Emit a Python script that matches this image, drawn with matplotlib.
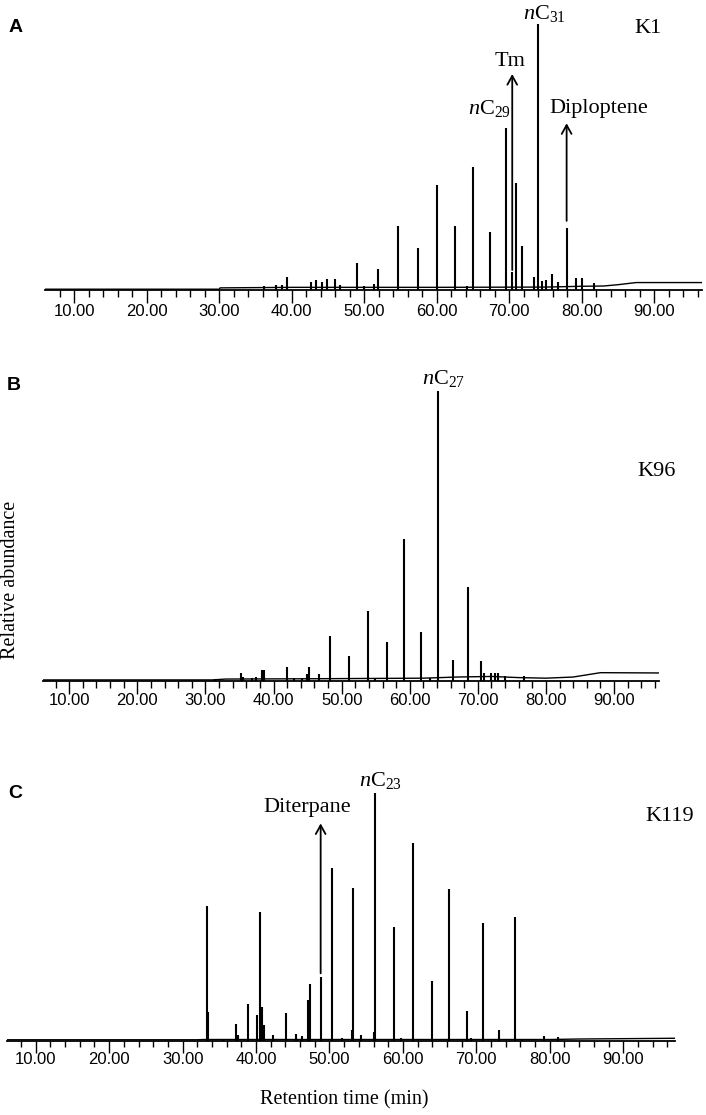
import numpy as np
import matplotlib
matplotlib.use("Agg")
import matplotlib.pyplot as plt
from matplotlib.ticker import FixedLocator

plt.rcParams['mathtext.fontset'] = 'custom'
plt.rcParams['mathtext.rm'] = 'Liberation Serif'
plt.rcParams['mathtext.it'] = 'Liberation Serif:italic'

# --- panel A (K1): peaks as (retention time, % of largest peak) ---
a_peak_rt = [36.1, 37.8, 38.6, 39.34, 42.7, 43.4, 44.1, 44.9, 45.9, 46.6,
             48.95, 49.9, 51.3, 51.9, 54.7, 57.45, 60.0, 62.5, 64.1, 64.95,
             67.3, 69.55, 70.4, 70.9, 71.75, 73.4, 73.9, 74.5, 75.05, 75.9,
             76.75, 77.9, 79.25, 80.0, 81.7]
a_peak_h = [1.5, 2.0, 2.0, 4.9, 3.1, 3.6, 3.0, 4.3, 4.3, 1.8,
            10.2, 1.6, 2.3, 8.0, 24.1, 15.8, 39.3, 24.1, 1.6, 46.2,
            21.7, 61.0, 6.9, 40.4, 16.5, 4.8, 100.0, 3.5, 3.8, 6.2,
            2.9, 23.4, 4.4, 4.4, 2.6]
a_base_rt = [5.9, 30.0, 30.1, 40.0, 60.0, 75.0, 80.0, 83.0, 85.0, 87.5, 96.6]
a_base_h = [0.3, 0.3, 0.8, 1.0, 1.0, 1.1, 1.4, 1.5, 2.0, 2.8, 2.8]

# --- panel B (K96) ---
b_peak_rt = [31.4, 35.18, 35.5, 36.8, 37.4, 38.36, 38.65, 41.97, 43.0, 44.2,
             44.95, 45.15, 46.6, 48.23, 51.1, 53.9, 54.9, 56.63, 59.18, 61.67,
             62.9, 64.1, 66.36, 68.6, 70.5, 70.9, 72.0, 72.5, 72.9, 74.0, 76.8]
b_peak_h = [0.6, 2.6, 1.2, 1.0, 1.2, 3.6, 3.6, 4.6, 0.8, 1.0,
            2.3, 4.6, 2.1, 15.3, 8.5, 24.1, 1.0, 13.2, 48.9, 16.7,
            0.8, 100.0, 7.0, 32.4, 6.6, 2.5, 2.6, 2.6, 2.6, 1.6, 1.6]
b_base_rt = [6.1, 31.0, 33.0, 45.0, 62.0, 67.0, 72.0, 76.0, 80.0, 84.0, 88.0, 96.6]
b_base_h = [0.2, 0.2, 0.5, 0.6, 0.8, 1.2, 1.4, 1.0, 0.8, 1.2, 2.7, 2.6]

# --- panel C (K119) ---
c_peak_rt = [33.35, 33.5, 35.5, 37.28, 37.5, 38.87, 40.19, 40.56, 40.83, 41.1,
             42.28, 44.1, 45.5, 46.2, 47.1, 47.33, 48.83, 50.38, 51.65, 53.1,
             53.25, 54.34, 56.0, 56.15, 58.79, 59.7, 61.38, 63.93, 66.34, 68.7,
             69.3, 70.93, 73.1, 75.25, 76.2, 79.25, 81.15]
c_peak_h = [54.3, 11.4, 0.8, 6.7, 2.4, 14.8, 10.4, 51.9, 13.6, 6.2,
            2.4, 11.0, 2.7, 1.8, 16.4, 22.7, 25.6, 69.6, 1.0, 4.4,
            61.7, 2.3, 3.4, 100.0, 46.0, 1.0, 79.6, 24.2, 61.0, 12.0,
            1.0, 47.6, 4.3, 49.9, 0.8, 1.8, 1.6]
c_base_rt = [6.05, 32.0, 33.0, 80.0, 84.0, 97.05]
c_base_h = [0.3, 0.3, 0.4, 0.4, 0.6, 0.9]

major_ticks = [10, 20, 30, 40, 50, 60, 70, 80, 90]
major_labels = ['10.00', '20.00', '30.00', '40.00', '50.00', '60.00', '70.00', '80.00', '90.00']

W, H = 706, 1115
fig = plt.figure(figsize=(W / 100, H / 100), dpi=100)


def panel(left, right, bottom, top, xlim, ytop, base_rt, base_h, pk_rt, pk_h,
          tlen, tpad):
    ax = fig.add_axes([left / W, 1 - bottom / H, (right - left) / W, (bottom - top) / H])
    ax.plot(base_rt, base_h, color='black', lw=1.0)
    ax.vlines(pk_rt, 0, pk_h, color='black', lw=1.5)
    ax.set_xlim(*xlim)
    ax.set_ylim(0, ytop)
    for s in ['left', 'right', 'top']:
        ax.spines[s].set_visible(False)
    ax.spines['bottom'].set_linewidth(1.3)
    ax.set_yticks([])
    ax.xaxis.set_major_locator(FixedLocator(major_ticks))
    ax.set_xticklabels(major_labels, family='Liberation Sans', fontsize=12)
    ax.xaxis.set_minor_locator(FixedLocator([t for t in range(8, 97, 2) if t % 10]))
    ax.tick_params(axis='x', which='major', direction='out', length=tlen, width=1.0, pad=tpad)
    ax.tick_params(axis='x', which='minor', direction='out', length=tlen * 0.55, width=1.0)
    return ax


serif = 'Liberation Serif'
fs = 16
arrow = dict(arrowstyle='->, head_length=0.45, head_width=0.25', lw=1.3, color='black',
             shrinkA=0, shrinkB=0, mutation_scale=14)

# A
ax = panel(44.6, 702.2, 290, 10, (5.9, 96.6), 105.3, a_base_rt, a_base_h, a_peak_rt, a_peak_h, 9, 1.0)
ax.text(74.9, 104.0, r'$n\mathrm{C}_{31}$', family=serif, fontsize=fs, ha='center', va='center', clip_on=False)
ax.text(70.1, 86.1, 'Tm', family=serif, fontsize=fs, ha='center', va='center')
ax.annotate('', xy=(70.4, 81.2), xytext=(70.4, 7.5), arrowprops=arrow)
ax.text(67.2, 68.4, r'$n\mathrm{C}_{29}$', family=serif, fontsize=fs, ha='center', va='center')
ax.text(82.4, 68.4, 'Diploptene', family=serif, fontsize=fs, ha='center', va='center')
ax.annotate('', xy=(77.9, 62.7), xytext=(77.9, 26.0), arrowprops=arrow)
ax.text(89.1, 98.5, 'K1', family=serif, fontsize=fs, ha='center', va='center')

# B
ax = panel(42.7, 659, 680.5, 360, (6.1, 96.6), 110.6, b_base_rt, b_base_h, b_peak_rt, b_peak_h, 9, 0)
ax.text(64.9, 104.2, r'$n\mathrm{C}_{27}$', family=serif, fontsize=fs, ha='center', va='center')
ax.text(96.3, 72.2, 'K96', family=serif, fontsize=fs, ha='center', va='center', clip_on=False)

# C
ax = panel(6.7, 675, 1040.5, 760, (6.05, 97.05), 113.2, c_base_rt, c_base_h, c_peak_rt, c_peak_h, 8.5, 0)
ax.text(56.9, 105.0, r'$n\mathrm{C}_{23}$', family=serif, fontsize=fs, ha='center', va='center')
ax.text(47.0, 94.0, 'Diterpane', family=serif, fontsize=fs, ha='center', va='center')
ax.annotate('', xy=(48.8, 87.6), xytext=(48.8, 27.1), arrowprops=arrow)
ax.text(96.3, 90.2, 'K119', family=serif, fontsize=fs, ha='center', va='center', clip_on=False)

# panel letters and shared labels
for lab, x, y in [('A', 16, 28), ('B', 14, 385), ('C', 15.6, 793)]:
    fig.text(x / W, 1 - y / H, lab, family='Liberation Sans', fontweight='bold',
             fontsize=14, ha='center', va='center')
fig.text(11 / W, 1 - 580 / H, 'Relative abundance', family=serif, fontsize=14.5,
         rotation=90, ha='center', va='center')
fig.text(344 / W, 1 - 1100 / H, 'Retention time (min)', family=serif, fontsize=14.5,
         ha='center', va='center')

fig.savefig('out.png', dpi=100)
